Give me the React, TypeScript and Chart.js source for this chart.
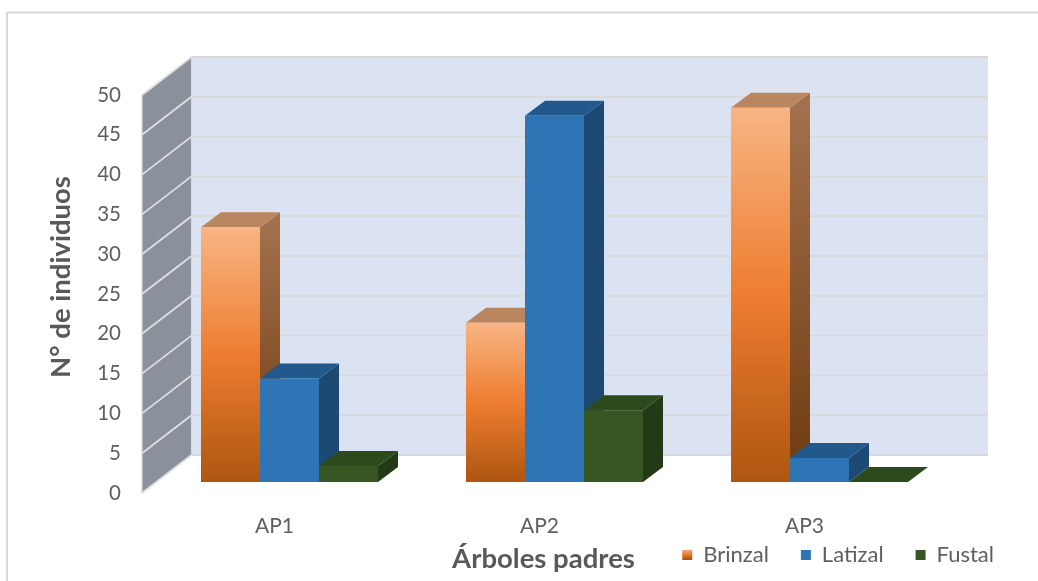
import React, { useEffect, useRef } from "react";
import { Chart, registerables } from "chart.js";

Chart.register(...registerables);

const categories = ["AP1", "AP2", "AP3"];
const seriesNames = ["Brinzal", "Latizal", "Fustal"];
const brinzal = [32, 20, 47];
const latizal = [13, 46, 3];
const fustal = [2, 9, 0];
const yTicksMax = 50;
const yStep = 5;
const yTitle = "N° de individuos";
const xTitle = "Árboles padres";

const FONT = "Lato";
const TEXT = "#5f5f5f";
const DX = 20;
const DY = 15;

function faces(i: number) {
  return [
    { top: "#b98660", side: ["#a2704c", "#6f3a10"] },
    { top: "#22598c", side: ["#1c4a75", "#1c4a75"] },
    { top: "#2c4a1c", side: ["#233a16", "#233a16"] },
  ][i];
}

function orangeGradient(ctx: CanvasRenderingContext2D, top: number, bottom: number) {
  const g = ctx.createLinearGradient(0, top, 0, bottom);
  g.addColorStop(0, "#f8b583");
  g.addColorStop(0.5, "#ed7d31");
  g.addColorStop(1, "#ae5610");
  return g;
}

const scene3d = {
  id: "scene3d",
  beforeDatasetsDraw(chart: any) {
    const { ctx, scales } = chart;
    const y = scales.y;
    const wallL = 142;
    const wallB = 191.5;
    const wallR = 988;
    const d = 38;
    ctx.save();
    // frame
    ctx.strokeStyle = "#d9d9d9";
    ctx.lineWidth = 2;
    ctx.strokeRect(7, 12.5, 1060, 600);
    const y0 = y.getPixelForValue(0);
    const yMax = y.getPixelForValue(yTicksMax);
    // back wall
    ctx.fillStyle = "#dbe2f1";
    ctx.fillRect(wallB, yMax - d, wallR - wallB, y0 - yMax);
    // side wall
    ctx.fillStyle = "#8a919c";
    ctx.beginPath();
    ctx.moveTo(wallL, yMax);
    ctx.lineTo(wallB, yMax - d);
    ctx.lineTo(wallB, y0 - d);
    ctx.lineTo(wallL, y0);
    ctx.closePath();
    ctx.fill();
    // grid lines
    for (let v = 0; v <= yTicksMax; v += yStep) {
      const p = y.getPixelForValue(v);
      ctx.strokeStyle = "#d9d9d9";
      ctx.lineWidth = 1.8;
      ctx.beginPath();
      ctx.moveTo(wallB, p - d);
      ctx.lineTo(wallR, p - d);
      ctx.stroke();
      ctx.strokeStyle = "#e0e0e0";
      ctx.beginPath();
      ctx.moveTo(wallL, p);
      ctx.lineTo(wallB, p - d);
      ctx.stroke();
    }
    ctx.strokeStyle = "#d9d9d9";
    ctx.lineWidth = 1.2;
    ctx.beginPath();
    ctx.moveTo(wallL, yMax);
    ctx.lineTo(wallL, y0);
    ctx.moveTo(wallB, yMax - d);
    ctx.lineTo(wallB, y0 - d);
    ctx.stroke();

    // bar depth faces, left to right
    for (let c = 0; c < categories.length; c++) {
      chart.data.datasets.forEach((_: any, s: number) => {
        const bar = chart.getDatasetMeta(s).data[c];
        const f = faces(s);
        const l = bar.x - bar.width / 2;
        const r = bar.x + bar.width / 2;
        const t = bar.y;
        const b = bar.base;
        const sg = ctx.createLinearGradient(0, t, 0, b);
        sg.addColorStop(0, f.side[0]);
        sg.addColorStop(1, f.side[1]);
        ctx.fillStyle = sg;
        ctx.beginPath();
        ctx.moveTo(r, t);
        ctx.lineTo(r + DX, t - DY);
        ctx.lineTo(r + DX, b - DY);
        ctx.lineTo(r, b);
        ctx.closePath();
        ctx.fill();
        ctx.fillStyle = f.top;
        ctx.beginPath();
        ctx.moveTo(l, t);
        ctx.lineTo(l + DX, t - DY);
        ctx.lineTo(r + DX, t - DY);
        ctx.lineTo(r, t);
        ctx.closePath();
        ctx.fill();
      });
    }
    ctx.restore();
  },
};

function nudgeTitle(scale: any, dx: number, dy: number) {
  if (scale._nudged) return;
  scale._nudged = true;
  const orig = scale.drawTitle;
  scale.drawTitle = function () {
    const c = this.ctx;
    c.save();
    c.translate(dx, dy);
    orig.call(this);
    c.restore();
  };
  // tick labels sit below the thin axis box, over the legend's padding
  scale._computeLabelArea = () => undefined;
}

export default function App() {
  const ref = useRef<HTMLCanvasElement>(null);
  useEffect(() => {
    const canvas = ref.current!;
    const chart = new Chart(canvas, {
      type: "bar",
      data: {
        labels: categories,
        datasets: [
          {
            label: seriesNames[0],
            data: brinzal,
            yAxisID: "yBars",
            backgroundColor: (c: any) => {
              const s = c.chart.scales.yBars;
              if (!s || c.raw === undefined) return "#ed7d31";
              return orangeGradient(c.chart.ctx, s.getPixelForValue(c.raw), s.getPixelForValue(0));
            },
          },
          { label: seriesNames[1], data: latizal, yAxisID: "yBars", backgroundColor: "#2e75b6" },
          { label: seriesNames[2], data: fustal, yAxisID: "yBars", backgroundColor: "#375623" },
        ],
      },
      plugins: [scene3d],
      options: {
        responsive: false,
        animation: false,
        devicePixelRatio: 1,
        layout: { padding: { left: 40, right: 12, top: 95, bottom: 5 } },
        categoryPercentage: 0.668,
        barPercentage: 1,
        plugins: {
          title: { display: false },
          tooltip: { enabled: false },
          legend: {
            position: "bottom",
            align: "end",
            labels: {
              boxWidth: 10,
              boxHeight: 10,
              padding: 32,
              color: TEXT,
              font: { family: FONT, size: 22 },
              generateLabels: (chart: any) =>
                seriesNames.map((text, i) => ({
                  text,
                  datasetIndex: i,
                  lineWidth: 0,
                  strokeStyle: "transparent",
                  fontColor: TEXT,
                  fillStyle:
                    i === 0
                      ? orangeGradient(chart.ctx, 549, 559)
                      : ["", "#2e75b6", "#375623"][i],
                })),
            },
          },
        },
        scales: {
          x: {
            type: "category",
            grid: { display: false },
            border: { display: false },
            ticks: { color: TEXT, font: { family: FONT, size: 21 }, padding: 13, labelOffset: -15, maxRotation: 0 },
            title: { display: true, text: xTitle, color: "#595959", font: { family: FONT, size: 27.5, weight: "bold" } },
            afterFit: (s: any) => {
              s.height = 19;
              nudgeTitle(s, -11, 68);
            },
          },
          y: {
            type: "linear",
            min: 0,
            max: yTicksMax,
            grid: { display: false },
            border: { display: false },
            ticks: { stepSize: yStep, color: TEXT, font: { family: FONT, size: 20.5 }, padding: 28 },
            title: { display: true, text: yTitle, color: "#595959", font: { family: FONT, size: 27.5, weight: "bold" } },
            afterFit: (s: any) => {
              s.width = 117;
              nudgeTitle(s, 1, -17);
            },
          },
          yBars: {
            type: "linear",
            position: "right",
            min: -1.38,
            max: 48.6,
            grid: { display: false },
            border: { display: false },
            ticks: { display: false },
            afterFit: (s: any) => {
              s.width = 74;
            },
          },
        },
      } as any,
    });
    return () => chart.destroy();
  }, []);
  return (
    <canvas
      ref={ref}
      width={1038}
      height={581}
      style={{ position: "absolute", left: 0, top: 0, width: 1038, height: 581, background: "#fff", filter: "blur(0.4px)" }}
    />
  );
}
